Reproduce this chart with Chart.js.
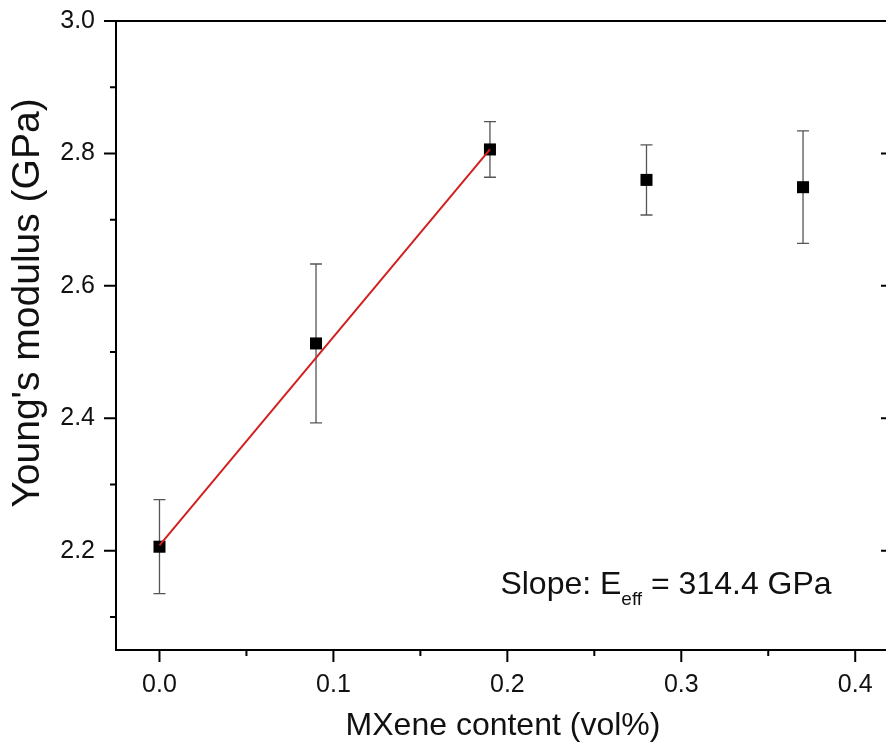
<!DOCTYPE html>
<html lang="en">
<head>
  <meta charset="utf-8" />
  <title>Young's modulus vs MXene content</title>
  <script src="https://cdn.jsdelivr.net/npm/chart.js@4.4.1/dist/chart.umd.min.js"></script>
  <style>
    html, body { margin: 0; padding: 0; background: #fff; overflow: hidden; }
    #wrap { position: relative; width: 890px; height: 742px; }
  </style>
</head>
<body>

<div id="wrap">
  <canvas id="myChart"></canvas>
</div>

<script>
// measured points (MXene vol% vs modulus in GPa) with error bars
const mxeneContent = [0, 0.09, 0.19, 0.28, 0.37];
const modulus      = [2.206, 2.513, 2.806, 2.760, 2.749];
const modulusErr   = [0.071, 0.120, 0.042, 0.053, 0.085];

// linear fit over the first three points
const fitX = [0, 0.19];
const fitY = [2.208, 2.806];

// axis ticks
const xMajorTicks = [0, 0.1, 0.2, 0.3, 0.4];
const xMinorTicks = [0.05, 0.15, 0.25, 0.35];
const xTickLabels = ['0.0', '0.1', '0.2', '0.3', '0.4'];
const yMajorTicks = [2.2, 2.4, 2.6, 2.8, 3.0];
const yMinorTicks = [2.1, 2.3, 2.5, 2.7, 2.9];
const yTickLabels = ['2.2', '2.4', '2.6', '2.8', '3.0'];

const FONT = '"Liberation Sans", Arial, sans-serif';

/**
 * errorBars
 * Draws the vertical error bars with caps behind the markers.
 */
const errorBars = {
  id: 'errorBars',
  beforeDatasetsDraw(chart) {
    const { ctx, scales: { x, y } } = chart;
    ctx.save();
    ctx.strokeStyle = '#555';
    ctx.lineWidth = 1.3;
    mxeneContent.forEach((v, i) => {
      const px = x.getPixelForValue(v);
      const top = y.getPixelForValue(modulus[i] + modulusErr[i]);
      const bot = y.getPixelForValue(modulus[i] - modulusErr[i]);
      ctx.beginPath();
      ctx.moveTo(px, top); ctx.lineTo(px, bot);
      ctx.moveTo(px - 6, top); ctx.lineTo(px + 6, top);
      ctx.moveTo(px - 6, bot); ctx.lineTo(px + 6, bot);
      ctx.stroke();
    });
    ctx.restore();
  }
};

/**
 * frameAndText
 * Origin-style tick marks (major + minor), top frame line,
 * inward ticks of the mirrored right axis, y title and the slope note.
 */
const frameAndText = {
  id: 'frameAndText',
  afterDraw(chart) {
    const { ctx, chartArea: a, scales: { x, y } } = chart;
    ctx.save();
    ctx.strokeStyle = '#000';
    ctx.lineWidth = 2;
    ctx.beginPath();
    // top line
    ctx.moveTo(a.left - 1, a.top); ctx.lineTo(a.right, a.top);
    // left axis ticks (and the inward ones of the right axis)
    yMajorTicks.forEach(v => {
      const py = y.getPixelForValue(v);
      ctx.moveTo(a.left - 12, py); ctx.lineTo(a.left, py);
      if (v < 3) { ctx.moveTo(a.right - 9, py); ctx.lineTo(a.right, py); }
    });
    yMinorTicks.forEach(v => {
      const py = y.getPixelForValue(v);
      ctx.moveTo(a.left - 6, py); ctx.lineTo(a.left, py);
    });
    // bottom axis ticks
    xMajorTicks.forEach(v => {
      const px = x.getPixelForValue(v);
      ctx.moveTo(px, a.bottom); ctx.lineTo(px, a.bottom + 12);
    });
    xMinorTicks.forEach(v => {
      const px = x.getPixelForValue(v);
      ctx.moveTo(px, a.bottom); ctx.lineTo(px, a.bottom + 6);
    });
    ctx.stroke();

    ctx.fillStyle = '#111';

    // y axis title
    ctx.save();
    ctx.translate(28, 303);
    ctx.rotate(-Math.PI / 2);
    ctx.textAlign = 'center';
    ctx.textBaseline = 'middle';
    ctx.font = '39px ' + FONT;
    ctx.fillText("Young's modulus (GPa)", 0, 0);
    ctx.restore();

    // slope note with subscript
    let tx = x.getPixelForValue(0.196);
    const ty = y.getPixelForValue(2.135);
    ctx.textAlign = 'left';
    ctx.textBaseline = 'alphabetic';
    ctx.font = '32px ' + FONT;
    ctx.fillText('Slope: E', tx, ty);
    tx += ctx.measureText('Slope: E').width;
    ctx.font = '19px ' + FONT;
    ctx.fillText('eff', tx, ty + 11);
    tx += ctx.measureText('eff').width;
    ctx.font = '32px ' + FONT;
    ctx.fillText(' = 314.4 GPa', tx, ty);

    ctx.restore();
  }
};

window.addEventListener('load', () => {
  const ctx = document.getElementById('myChart').getContext('2d');
  new Chart(ctx, {
    type: 'scatter',
    data: {
      datasets: [
        {
          label: 'Linear fit',
          data: fitX.map((v, i) => ({ x: v, y: fitY[i] })),
          showLine: true,
          borderColor: '#d21f1f',
          borderWidth: 2,
          pointRadius: 0,
          fill: false
        },
        {
          label: "Young's modulus",
          data: mxeneContent.map((v, i) => ({ x: v, y: modulus[i] })),
          showLine: false,
          pointStyle: 'rect',
          pointRadius: 8.5,
          pointHoverRadius: 8.5,
          backgroundColor: '#000',
          borderColor: '#000',
          borderWidth: 0
        }
      ]
    },
    options: {
      responsive: true,
      maintainAspectRatio: false,
      animation: false,
      layout: {
        autoPadding: false,
        padding: { top: 21, left: 0, right: 0, bottom: 0 }
      },
      plugins: {
        legend: { display: false },
        tooltip: { enabled: false }
      },
      scales: {
        x: {
          type: 'linear',
          min: -0.025,
          max: 0.42,
          afterFit: s => {
            s.height = 92;
            s.paddingLeft = 0;
            s.paddingRight = 0;
          },
          afterBuildTicks: s => { s.ticks = xMajorTicks.map(v => ({ value: v })); },
          grid: { display: true, drawOnChartArea: false, drawTicks: false },
          border: { color: '#000', width: 2 },
          ticks: {
            padding: 20,
            color: '#111',
            font: { family: FONT, size: 25 },
            maxRotation: 0,
            callback: (v, i) => xTickLabels[i]
          },
          title: {
            display: true,
            text: 'MXene content (vol%)',
            color: '#111',
            font: { family: FONT, size: 32, lineHeight: 1.0 },
            padding: { top: 0, bottom: 0 }
          }
        },
        y: {
          type: 'linear',
          min: 2.05,
          max: 3.0,
          afterFit: s => {
            s.width = 116;
            s.paddingTop = 0;
            s.paddingBottom = 0;
          },
          afterBuildTicks: s => { s.ticks = yMajorTicks.map(v => ({ value: v })); },
          grid: { display: true, drawOnChartArea: false, drawTicks: false },
          border: { color: '#000', width: 2 },
          ticks: {
            padding: 21,
            color: '#111',
            font: { family: FONT, size: 25 },
            callback: (v, i) => yTickLabels[i]
          }
        }
      }
    },
    plugins: [errorBars, frameAndText]
  });
});
</script>

</body>
</html>
